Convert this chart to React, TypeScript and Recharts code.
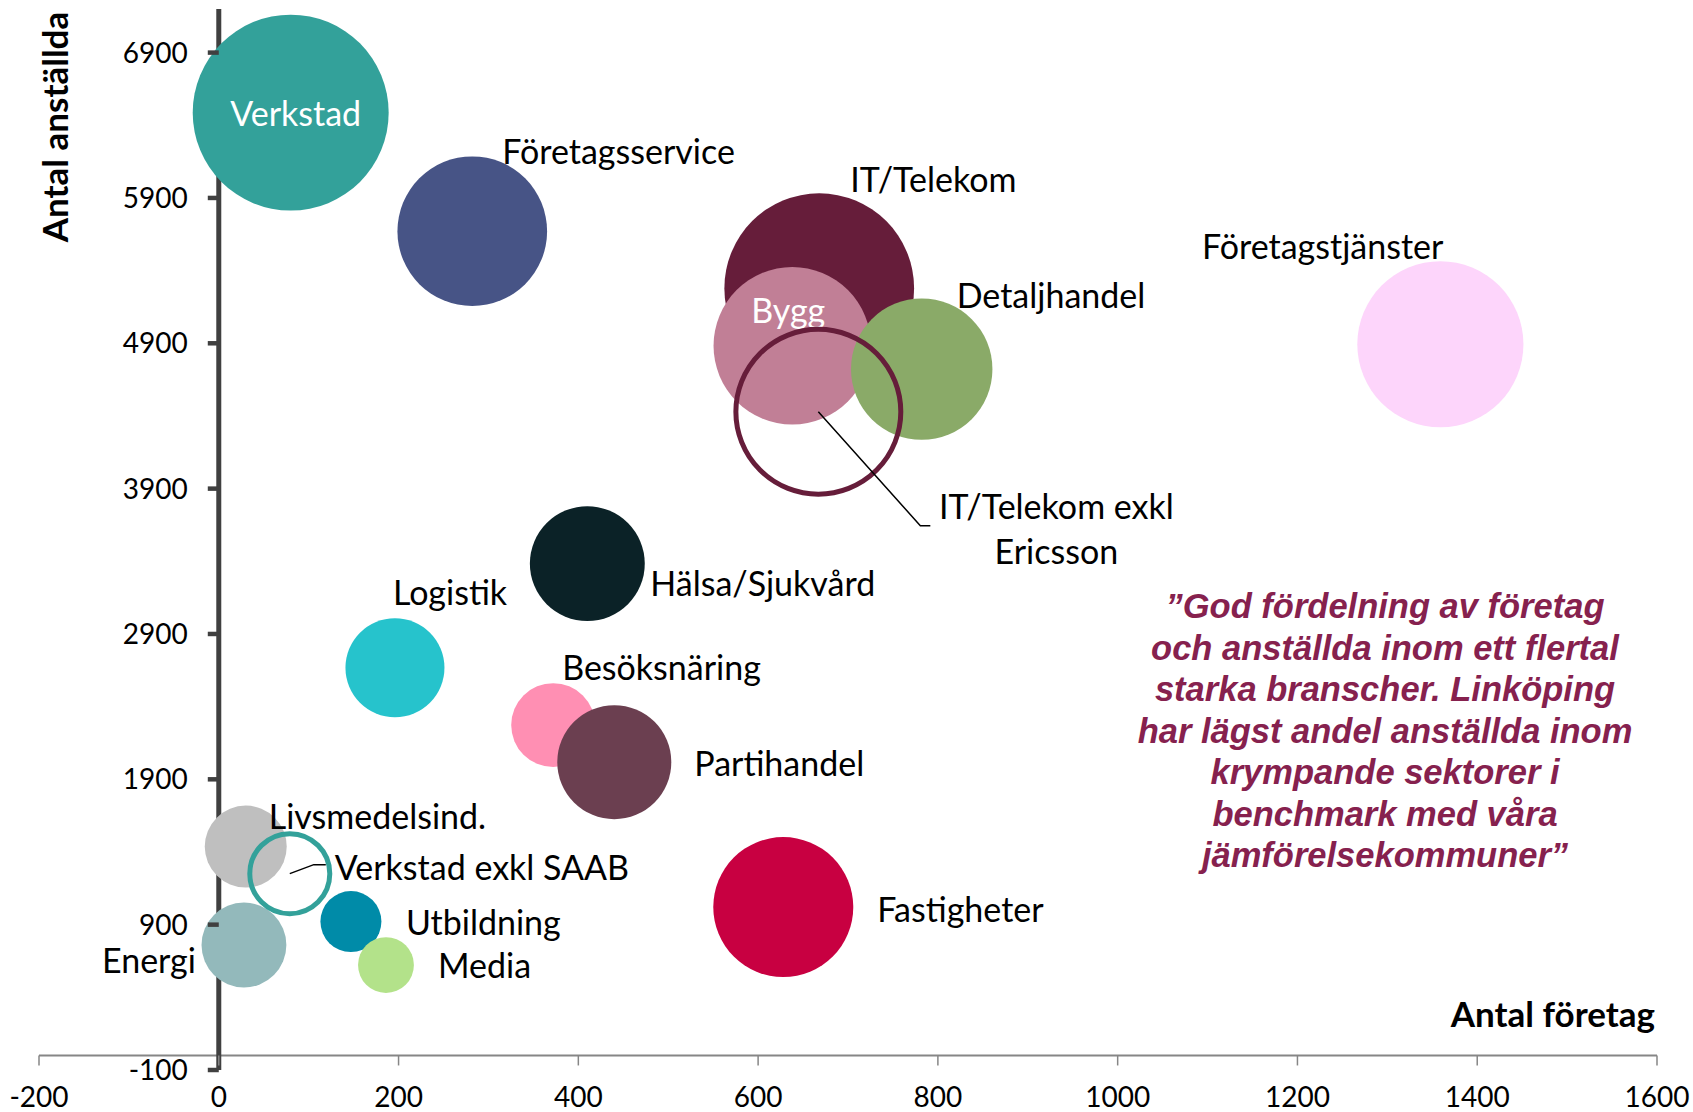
import React from 'react';
import { ScatterChart, Scatter, XAxis, YAxis, ZAxis, ReferenceLine } from 'recharts';

// Branscher: antal företag (x), antal anställda (y), bubbelstorlek (z)
const branscher = [
  'Verkstad', 'Företagsservice', 'IT/Telekom', 'Bygg', 'Detaljhandel', 'Företagstjänster',
  'Hälsa/Sjukvård', 'Logistik', 'Besöksnäring', 'Partihandel', 'Fastigheter',
  'Livsmedelsind.', 'Energi', 'Utbildning', 'Media',
];
const antalForetag = [80, 282, 668, 638, 782, 1359, 410, 196, 372, 440, 628, 30, 28, 147, 186];
const antalAnstallda = [6487, 5671, 5279, 4883, 4722, 4893, 3384, 2668, 2273, 2018, 1021, 1437, 760, 921, 622];
const bubbelStorlek = [9600, 5600, 9000, 6200, 5000, 6900, 3300, 2450, 1760, 3250, 4900, 1680, 1800, 930, 780];

// Jämförelse utan storföretag (ringar)
const exklNamn = ['IT/Telekom exkl Ericsson', 'Verkstad exkl SAAB'];
const exklForetag = [667, 79];
const exklAnstallda = [4429, 1251];
const exklStorlek = [6800, 1600];

const xTicks = [-200, 0, 200, 400, 600, 800, 1000, 1200, 1400, 1600];
const yTicks = [-100, 900, 1900, 2900, 3900, 4900, 5900, 6900];

const citat = [
  '”God fördelning av företag',
  'och anställda inom ett flertal',
  'starka branscher. Linköping',
  'har lägst andel anställda inom',
  'krympande sektorer i',
  'benchmark med våra',
  'jämförelsekommuner”',
];

const bransch = branscher.map((namn, i) => ({
  namn, x: antalForetag[i], y: antalAnstallda[i], z: bubbelStorlek[i],
}));
const exkl = exklNamn.map((namn, i) => ({
  namn, x: exklForetag[i], y: exklAnstallda[i], z: exklStorlek[i],
}));

const farger: Record<string, string> = {
  'Verkstad': '#33a19a',
  'Företagsservice': '#475486',
  'IT/Telekom': '#661d3a',
  'Bygg': '#c17f96',
  'Detaljhandel': '#8aaa68',
  'Företagstjänster': '#fdd5fb',
  'Hälsa/Sjukvård': '#0b2227',
  'Logistik': '#26c3cc',
  'Besöksnäring': '#ff8fb3',
  'Partihandel': '#6b3f50',
  'Fastigheter': '#c80041',
  'Livsmedelsind.': '#bfbfbf',
  'Energi': '#93b9bb',
  'Utbildning': '#008ba8',
  'Media': '#b3e28a',
  'IT/Telekom exkl Ericsson': '#661d3a',
  'Verkstad exkl SAAB': '#33a19a',
};

// label offsets relative to the bubble centre
const etiketter: Record<string, { dx: number; dy: number; anchor?: string; fill?: string }> = {
  'Verkstad': { dx: 5, dy: 1, anchor: 'middle', fill: '#fff' },
  'Företagsservice': { dx: 30, dy: -79 },
  'IT/Telekom': { dx: 31, dy: -108 },
  'Bygg': { dx: -4, dy: -35, anchor: 'middle', fill: '#fff' },
  'Detaljhandel': { dx: 35, dy: -73 },
  'Företagstjänster': { dx: 3, dy: -97, anchor: 'end' },
  'Hälsa/Sjukvård': { dx: 63, dy: 20 },
  'Logistik': { dx: -2, dy: -75 },
  'Besöksnäring': { dx: 9, dy: -57 },
  'Partihandel': { dx: 80, dy: 2 },
  'Fastigheter': { dx: 94, dy: 3 },
  'Livsmedelsind.': { dx: 23, dy: -30 },
  'Energi': { dx: -48, dy: 16, anchor: 'end' },
  'Utbildning': { dx: 55, dy: 1 },
  'Media': { dx: 52, dy: 1 },
};

const W = 1693;
const H = 1112;
const Y_AXIS_W = 39;
const X_AXIS_H = 42;
const M = { top: 9, right: 36, bottom: 0, left: 0 };
const X_MIN = -200, X_MAX = 1600, Y_MIN = -100, Y_MAX = 7200;
const PLOT_LEFT = M.left + Y_AXIS_W;
const PLOT_W = W - PLOT_LEFT - M.right;
const PLOT_H = H - M.top - M.bottom - X_AXIS_H;
const ZERO_X = PLOT_LEFT + ((0 - X_MIN) / (X_MAX - X_MIN)) * PLOT_W;
const ZERO_Y = M.top + ((Y_MAX - 0) / (Y_MAX - Y_MIN)) * PLOT_H;

const FONT = 'Lato, "Open Sans", sans-serif';
const LABEL_SIZE = 34;

const YTick = (props: any) => {
  const { y, payload } = props;
  return (
    <g>
      <line x1={ZERO_X - 11} x2={ZERO_X} y1={y} y2={y} stroke="#404040" strokeWidth={4.5} />
      <text x={ZERO_X - 31} y={y} dy={10} textAnchor="end" fontFamily={FONT} fontSize={28} fill="#000">
        {payload.value}
      </text>
    </g>
  );
};

const XTick = (props: any) => {
  const { x, payload } = props;
  return (
    <g>
      <line x1={x} x2={x} y1={ZERO_Y} y2={ZERO_Y + 10} stroke="#868686" strokeWidth={1.5} />
      <text x={x} y={1107} textAnchor="middle" fontFamily={FONT} fontSize={28} fill="#000">
        {payload.value}
      </text>
    </g>
  );
};

const Bubble = (props: any) => {
  const { cx, cy, width, payload } = props;
  const r = width / 2;
  const e = etiketter[payload.namn];
  return (
    <g>
      {/* value axis crosses at x = 0 and sits beneath the bubbles: draw it before the first one */}
      {payload.namn === branscher[0] && (
        <line x1={ZERO_X} x2={ZERO_X} y1={M.top} y2={M.top + PLOT_H} stroke="#404040" strokeWidth={5} />
      )}
      <circle cx={cx} cy={cy} r={r} fill={farger[payload.namn]} />
      <text
        x={cx + e.dx}
        y={cy + e.dy}
        dy={12}
        textAnchor={e.anchor || 'start'}
        fontFamily={FONT}
        fontSize={LABEL_SIZE}
        fill={e.fill || '#000'}
      >
        {payload.namn}
      </text>
    </g>
  );
};

const Ring = (props: any) => {
  const { cx, cy, width, payload } = props;
  const r = width / 2;
  const color = farger[payload.namn];
  if (payload.namn === 'Verkstad exkl SAAB') {
    return (
      <g>
        <circle cx={cx} cy={cy} r={r} fill="none" stroke={color} strokeWidth={5} />
        <polyline
          points={`${cx},${cy} ${cx + 24},${cy - 9} ${cx + 36},${cy - 9}`}
          fill="none" stroke="#000" strokeWidth={1.5}
        />
        <text x={cx + 45} y={cy - 6} dy={12} fontFamily={FONT} fontSize={LABEL_SIZE} fill="#000">
          {payload.namn}
        </text>
      </g>
    );
  }
  return (
    <g>
      <circle cx={cx} cy={cy} r={r} fill="none" stroke={color} strokeWidth={5} />
      <polyline
        points={`${cx},${cy} ${cx + 102},${cy + 114} ${cx + 112},${cy + 114}`}
        fill="none" stroke="#000" strokeWidth={1.5}
      />
      <text x={cx + 238} y={cy + 95} dy={12} textAnchor="middle" fontFamily={FONT} fontSize={LABEL_SIZE} fill="#000">
        <tspan x={cx + 238}>IT/Telekom exkl</tspan>
        <tspan x={cx + 238} dy={45}>Ericsson</tspan>
      </text>
    </g>
  );
};

export default function App() {
  return (
    <div style={{ position: 'fixed', left: 0, top: 0, width: W, height: H, background: '#fff' }}>
      <ScatterChart width={W} height={H} margin={M}>
        <XAxis
          type="number"
          dataKey="x"
          domain={[X_MIN, X_MAX]}
          ticks={xTicks}
          interval={0}
          height={X_AXIS_H}
          axisLine={false}
          tickLine={false}
          tick={<XTick />}
          label={{
            content: () => (
              <text x={1655} y={1027} textAnchor="end" fontFamily={FONT} fontSize={35} fontWeight="bold" fill="#000">
                Antal företag
              </text>
            ),
          }}
        />
        <YAxis
          type="number"
          dataKey="y"
          domain={[Y_MIN, Y_MAX]}
          ticks={yTicks}
          interval={0}
          width={Y_AXIS_W}
          axisLine={false}
          tickLine={false}
          tick={<YTick />}
          zIndex={-1}
          label={{
            content: () => (
              <text
                transform="translate(68,127) rotate(-90)"
                textAnchor="middle"
                fontFamily={FONT}
                fontSize={35}
                fontWeight="bold"
                fill="#000"
              >
                Antal anställda
              </text>
            ),
          }}
        />
        <ZAxis type="number" dataKey="z" domain={[0, 10000]} range={[0, 10000 * Math.PI]} />
        <ReferenceLine
          segment={[{ x: X_MIN, y: 0 }, { x: X_MAX, y: 0 }]}
          stroke="#868686"
          strokeWidth={2}
        />
        <Scatter name="Branscher" data={bransch} shape={<Bubble />} isAnimationActive={false} />
        <Scatter name="Exkl storföretag" data={exkl} shape={<Ring />} isAnimationActive={false} />
      </ScatterChart>
      <div
        style={{
          position: 'absolute',
          left: 1105,
          top: 586,
          width: 560,
          textAlign: 'center',
          fontFamily: '"Liberation Sans", Arial, sans-serif',
          fontWeight: 'bold',
          fontStyle: 'italic',
          fontSize: 34.5,
          lineHeight: '41.5px',
          color: '#86214e',
        }}
      >
        {citat.map((rad, i) => (
          <div key={i}>{rad}</div>
        ))}
      </div>
    </div>
  );
}
